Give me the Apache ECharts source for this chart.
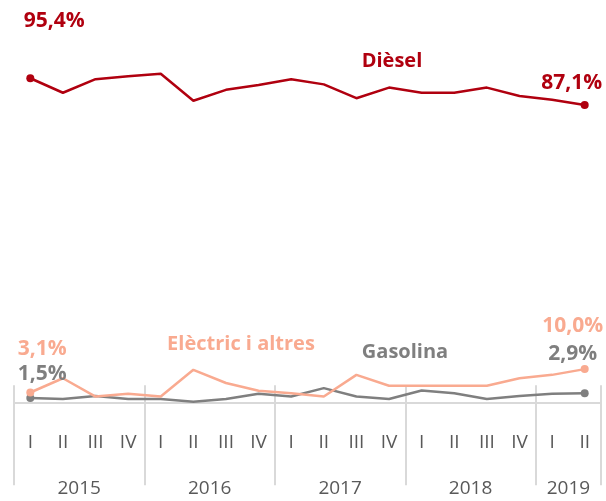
<!DOCTYPE html>
<html><head><meta charset="utf-8">
<script src="https://cdn.jsdelivr.net/npm/echarts@6/dist/echarts.min.js"></script>
<style>html,body{margin:0;padding:0;background:#fff}#c{width:606px;height:501px}</style>
</head><body><div id="c"></div>
<script>
var quarters = ['I','II','III','IV','I','II','III','IV','I','II','III','IV','I','II','III','IV','I','II'];
var years = ['2015','2016','2017','2018','2019'];
var quartersPerYear = [4,4,4,4,2];
var diesel = [95.4,90.9,95.1,96.0,96.8,88.4,91.8,93.3,95.1,93.5,89.2,92.5,90.9,90.9,92.5,89.9,88.7,87.1];
var electric = [3.1,7.3,1.9,2.7,1.9,9.8,5.9,3.6,2.9,1.9,8.3,5.1,5.1,5.1,5.1,7.3,8.3,10.0];
var gasoline = [1.5,1.2,2.1,1.2,1.2,0.4,1.2,2.7,1.9,4.4,1.9,1.2,3.7,2.9,1.2,2.1,2.7,2.9];

var FONT = '"Open Sans", sans-serif';
var cDiesel = '#B0000F', cElec = '#F9AA90', cGas = '#7F7F7F', cAxis = '#595959', cGrid = '#D9D9D9';

// year axis with 2 slots per quarter (boundaryGap false) so year labels sit mid-year
var yearSlots = [], sepIdx = [], labIdx = [];
var pos = 0;
for (var i = 0; i < years.length; i++) {
  sepIdx.push(pos);
  labIdx.push(pos + quartersPerYear[i]);
  pos += quartersPerYear[i] * 2;
}
sepIdx.push(pos);
for (var s = 0; s <= pos; s++) yearSlots.push('');
for (var j = 0; j < years.length; j++) yearSlots[labIdx[j]] = years[j];

function pct(v){ return v.toFixed(1).replace('.', ',') + '%'; }
function endpoints(arr, color, firstOff, lastOff) {
  return arr.map(function(v, i){
    var o = {value: v};
    if (i === 0 || i === arr.length - 1) {
      o.symbol = 'circle'; o.symbolSize = 8;
      o.label = {show: true, position: 'top', formatter: pct(v), color: color,
        fontFamily: FONT, fontWeight: 'bold', fontSize: 21,
        offset: i === 0 ? firstOff : lastOff};
    } else {
      o.symbol = 'none';
    }
    return o;
  });
}

var chart = echarts.init(document.getElementById('c'));
chart.setOption({
  animation: false,
  grid: {left: 14, right: 5, top: 20, bottom: 98},
  xAxis: [{
    type: 'category', data: quarters, boundaryGap: true, position: 'bottom',
    axisLine: {show: true, lineStyle: {color: cGrid, width: 2}},
    axisTick: {show: false},
    axisLabel: {color: cAxis, fontFamily: FONT, fontSize: 19, margin: 30, interval: 0}
  }, {
    type: 'category', data: yearSlots, boundaryGap: false, position: 'bottom',
    axisLine: {show: false},
    axisTick: {show: true, length: 100, lineStyle: {color: cGrid, width: 2},
      interval: function(idx){ return sepIdx.indexOf(idx) >= 0; }},
    axisLabel: {color: cAxis, fontFamily: FONT, fontSize: 19, margin: 76,
      interval: function(idx){ return labIdx.indexOf(idx) >= 0; }}
  }],
  yAxis: [
    {type: 'value', min: 0, max: 113, show: false, splitLine: {show: false}},
    {type: 'value', min: -5.5, max: 113.5, show: false, splitLine: {show: false}}
  ],
  series: [
    {name: 'Gasolina', type: 'line', xAxisIndex: 0, yAxisIndex: 0,
     data: endpoints(gasoline, cGas, [12, -4], [-12, -20]),
     lineStyle: {color: cGas, width: 2.5}, itemStyle: {color: cGas}},
    {name: 'Elèctric i altres', type: 'line', xAxisIndex: 0, yAxisIndex: 0,
     data: endpoints(electric, cElec, [12, -24], [-12, -24]),
     lineStyle: {color: cElec, width: 2.5}, itemStyle: {color: cElec}},
    {name: 'Dièsel', type: 'line', xAxisIndex: 0, yAxisIndex: 1,
     data: endpoints(diesel, cDiesel, [24, -38], [-13, -2]),
     lineStyle: {color: cDiesel, width: 2.5}, itemStyle: {color: cDiesel}}
  ],
  graphic: [
    {type: 'text', style: {text: 'Dièsel', x: 392, y: 61, align: 'center', verticalAlign: 'middle',
      fill: cDiesel, font: 'bold 20px ' + FONT}},
    {type: 'text', style: {text: 'Elèctric i altres', x: 241, y: 344, align: 'center', verticalAlign: 'middle',
      fill: cElec, font: 'bold 20px ' + FONT}},
    {type: 'text', style: {text: 'Gasolina', x: 405, y: 352, align: 'center', verticalAlign: 'middle',
      fill: cGas, font: 'bold 20px ' + FONT}}
  ]
});
</script></body></html>
